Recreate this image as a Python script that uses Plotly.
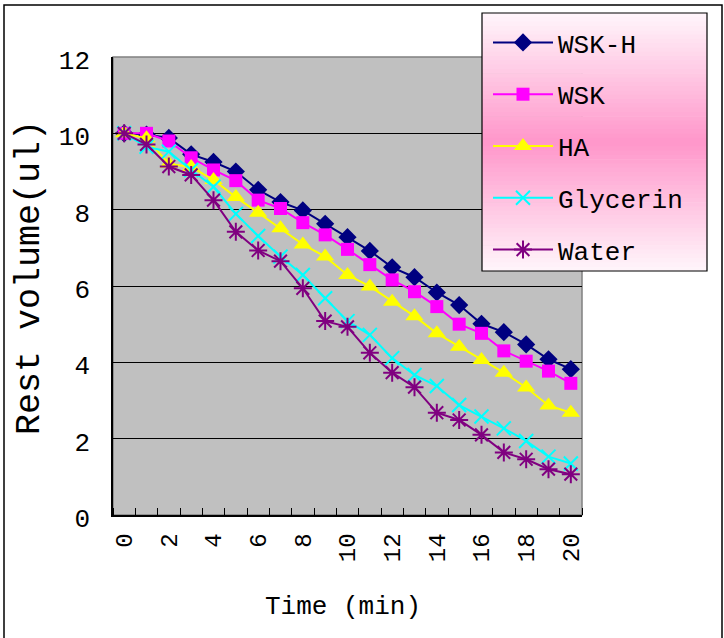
import plotly.graph_objects as go

time_min = list(range(0, 21))
x_tick_vals = list(range(0, 21, 2))
x_tick_text = [str(v) for v in x_tick_vals]
y_tick_vals = list(range(0, 13, 2))

wsk_h = [10.0, 9.97, 9.88, 9.45, 9.25, 9.0, 8.52, 8.2, 7.98, 7.63, 7.28,
         6.92, 6.49, 6.23, 5.83, 5.5, 5.01, 4.79, 4.47, 4.08, 3.82]
wsk = [10.0, 10.0, 9.8, 9.36, 9.04, 8.76, 8.25, 8.03, 7.66, 7.34, 6.96,
       6.56, 6.16, 5.85, 5.46, 5.0, 4.76, 4.3, 4.03, 3.77, 3.45]
ha = [10.0, 9.87, 9.2, 9.12, 8.78, 8.33, 7.92, 7.51, 7.09, 6.77, 6.29,
      5.99, 5.59, 5.21, 4.76, 4.41, 4.06, 3.73, 3.34, 2.87, 2.68]
glycerin = [10.0, 9.65, 9.52, 9.04, 8.6, 7.89, 7.31, 6.77, 6.29, 5.68, 5.08,
            4.72, 4.11, 3.67, 3.38, 2.88, 2.58, 2.27, 1.94, 1.53, 1.35]
water = [10.0, 9.71, 9.13, 8.91, 8.25, 7.42, 6.93, 6.65, 5.94, 5.08, 4.93,
         4.25, 3.73, 3.35, 2.68, 2.49, 2.1, 1.64, 1.46, 1.2, 1.07]

series_names = ["WSK-H", "WSK", "HA", "Glycerin", "Water"]
series_values = [wsk_h, wsk, ha, glycerin, water]

FONT = "Liberation Mono"
W, H = 724, 638
ML, MR, MT, MB = 113, 142, 57, 123
PW = W - ML - MR
PH = H - MT - MB


def px_x(px):
    return (px - ML) / PW


def px_y(py):
    return (H - MB - py) / PH


styles = [
    dict(color="#000080", symbol="diamond", size=14, lw=2),
    dict(color="#FF00FF", symbol="square", size=13, lw=2),
    dict(color="#FFFF00", symbol="triangle-up", size=16, lw=2),
    dict(color="#00FFFF", symbol="x-thin-open", size=14, lw=2),
    dict(color="#800080", symbol="asterisk-open", size=15, lw=2),
]

fig = go.Figure()
for name, vals, st in zip(series_names, series_values, styles):
    open_sym = st["symbol"].endswith("open")
    fig.add_trace(go.Scatter(
        x=time_min, y=vals, name=name, mode="lines+markers",
        legendgroup=name,
        line=dict(color=st["color"], width=st["lw"]),
        marker=dict(symbol=st["symbol"], size=st["size"], color=st["color"],
                    line=dict(color=st["color"], width=2 if open_sym else 0)),
    ))

shapes = []
# outer frame
shapes.append(dict(type="rect", xref="paper", yref="paper",
                   x0=px_x(4), x1=px_x(722), y0=px_y(641), y1=px_y(5),
                   line=dict(color="#000000", width=1.5), fillcolor="rgba(0,0,0,0)",
                   layer="below"))
# plot border (grey top/right)
shapes.append(dict(type="rect", xref="paper", yref="paper",
                   x0=0, x1=1, y0=0, y1=1,
                   line=dict(color="#808080", width=1.5), layer="below"))

# legend box gradient
lx0, lx1, ly0, ly1 = 482, 707, 13, 271
n = 60
top_c = (255, 246, 251)
mid_c = (255, 150, 202)
mid_pos = 0.5
for i in range(n):
    t = (i + 0.5) / n
    if t < mid_pos:
        f = t / mid_pos
    else:
        f = (1 - t) / (1 - mid_pos)
    c = tuple(int(round(top_c[k] + (mid_c[k] - top_c[k]) * f)) for k in range(3))
    y_a = ly0 + (ly1 - ly0) * i / n
    y_b = ly0 + (ly1 - ly0) * (i + 1) / n + 0.6
    shapes.append(dict(type="rect", xref="paper", yref="paper",
                       x0=px_x(lx0), x1=px_x(lx1), y0=px_y(min(y_b, ly1)), y1=px_y(y_a),
                       line=dict(width=0), fillcolor="rgb(%d,%d,%d)" % c, layer="above"))
shapes.append(dict(type="rect", xref="paper", yref="paper",
                   x0=px_x(lx0), x1=px_x(lx1), y0=px_y(ly1), y1=px_y(ly0),
                   line=dict(color="#000000", width=1.2), fillcolor="rgba(0,0,0,0)",
                   layer="above"))

annotations = [
    dict(text="Time (min)", xref="paper", yref="paper", x=px_x(343), y=px_y(607),
         showarrow=False, xanchor="center", yanchor="middle",
         font=dict(family=FONT, size=26, color="#000000")),
    dict(text="Rest volume(ul)", xref="paper", yref="paper", x=px_x(30), y=px_y(278),
         showarrow=False, xanchor="center", yanchor="middle", textangle=-90,
         font=dict(family=FONT, size=35, color="#000000")),
]

fig.update_layout(
    width=W, height=H,
    margin=dict(l=ML, r=MR, t=MT, b=MB),
    paper_bgcolor="#FFFFFF",
    plot_bgcolor="#C0C0C0",
    font=dict(family=FONT, color="#000000"),
    showlegend=True,
    legend=dict(
        x=px_x(lx0 + 6), y=px_y(ly0 + 6), xanchor="left", yanchor="top",
        bgcolor="rgba(0,0,0,0)", borderwidth=0,
        font=dict(family=FONT, size=26, color="#000000"),
        tracegroupgap=15, traceorder="grouped", itemwidth=60,
    ),
    shapes=shapes,
    annotations=annotations,
    xaxis=dict(
        range=[-0.5, 20.5], tickmode="array", tickvals=x_tick_vals, ticktext=x_tick_text,
        tickangle=-90, ticks="", showgrid=False, zeroline=False,
        showline=True, linecolor="#000000", linewidth=1.5,
        tickfont=dict(family=FONT, size=24, color="#000000"),
        ticklabelstandoff=7,
        minor=dict(ticks="inside", tickmode="linear", tick0=-0.5, dtick=1,
                   ticklen=7, tickcolor="#000000", tickwidth=1, showgrid=False),
    ),
    yaxis=dict(
        range=[0, 12], tickmode="array", tickvals=y_tick_vals,
        showgrid=True, gridcolor="#000000", gridwidth=1, zeroline=False,
        showline=True, linecolor="#000000", linewidth=1.5,
        ticks="inside", ticklen=5, tickcolor="#000000",
        tickfont=dict(family=FONT, size=26, color="#000000"),
        ticklabelstandoff=16, ticklabelshift=3,
    ),
)

fig.write_html("out.html", config={"displayModeBar": False},
               post_script="document.body.style.margin='0';")
